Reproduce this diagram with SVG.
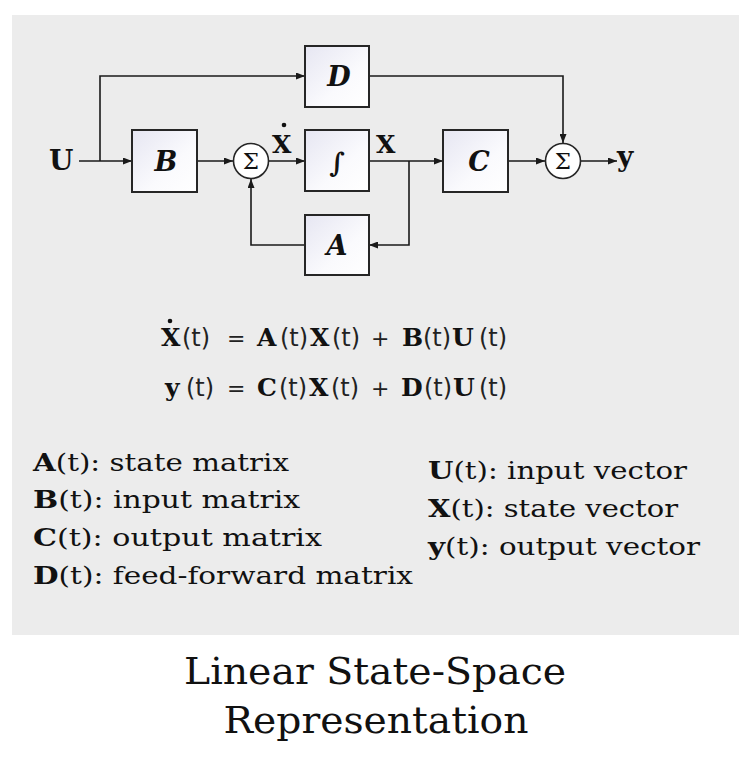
<svg xmlns="http://www.w3.org/2000/svg" width="756" height="762" viewBox="0 0 756 762">
<defs>
<linearGradient id="boxg" x1="0" y1="0" x2="1" y2="1">
<stop offset="0" stop-color="#e6e6f2"/>
<stop offset="0.6" stop-color="#fafafd"/>
<stop offset="1" stop-color="#ffffff"/>
</linearGradient>
<marker id="arr" markerUnits="userSpaceOnUse" markerWidth="9" markerHeight="7" refX="9" refY="3.5" viewBox="0 0 9 7" orient="auto">
<path d="M0,0 L9,3.5 L0,7 z" fill="#1a1a1a"/>
</marker>
</defs>
<style>
.box{fill:url(#boxg);stroke:#262626;stroke-width:2}
.sum{fill:#ffffff;stroke:#262626;stroke-width:1.6}
.blk{font-family:"DejaVu Serif",serif;font-style:italic;font-weight:bold;font-size:27px;fill:#111;text-anchor:middle}
.sig{font-family:"DejaVu Serif",serif;font-size:23px;fill:#111;text-anchor:middle}
.lbl{font-family:"DejaVu Serif",serif;font-weight:bold;fill:#111}
.conn path{fill:none;stroke:#1a1a1a;stroke-width:1.6;marker-end:url(#arr)}
.eq{font-size:24px;fill:#111}
.b{font-family:"DejaVu Serif",serif;font-weight:bold;font-size:25px}
.s{font-family:"DejaVu Sans",sans-serif;font-weight:normal;fill:#222}
.op{font-family:"DejaVu Sans",sans-serif;font-size:22px;fill:#222}
.leg{font-family:"DejaVu Serif",serif;font-size:25px;fill:#111}
.title{font-family:"DejaVu Serif",serif;font-size:37px;fill:#111;text-anchor:middle}
</style>
<rect x="12" y="15" width="727" height="620" fill="#ececec"/>

<g class="conn">
<path d="M79,161 L132,161"/>
<path d="M100,161 L100,76 L305,76"/>
<path d="M197,161 L233,161"/>
<path d="M269,161 L305,161"/>
<path d="M369,161 L443,161"/>
<path d="M409,161 L409,245 L369,245"/>
<path d="M305,245 L251,245 L251,179"/>
<path d="M369,76 L563,76 L563,143"/>
<path d="M508,161 L545,161"/>
<path d="M581,161 L617,161"/>
</g>

<g id="nodeD"><rect class="box" x="305" y="46" width="64" height="61"/><text class="blk" x="339" y="86">D</text></g>
<g id="nodeB"><rect class="box" x="132" y="130" width="65" height="62"/><text class="blk" x="166" y="171">B</text></g>
<g id="nodeInt"><rect class="box" x="305" y="130" width="64" height="61"/><text class="blk" x="337" y="172" font-size="32" font-weight="normal">∫</text></g>
<g id="nodeA"><rect class="box" x="305" y="215" width="64" height="60"/><text class="blk" x="337" y="255">A</text></g>
<g id="nodeC"><rect class="box" x="443" y="130" width="65" height="62"/><text class="blk" x="479" y="171">C</text></g>
<g id="sum1"><circle class="sum" cx="251" cy="161" r="17.5"/><text class="sig" x="251" y="169">Σ</text></g>
<g id="sum2"><circle class="sum" cx="563" cy="161" r="17.5"/><text class="sig" x="563" y="169">Σ</text></g>

<g id="labels">
<text class="lbl" x="49" y="170" font-size="28">U</text>
<text class="lbl" x="617" y="166" font-size="28">y</text>
<text class="lbl" x="272" y="153" font-size="25">X</text>
<circle cx="284" cy="125" r="2.3" fill="#111"/>
<text class="lbl" x="376" y="153" font-size="25">X</text>
</g>

<g id="equations">
<circle cx="170" cy="321" r="2.3" fill="#111"/>
<text class="eq" y="346"><tspan class="b" x="161">X</tspan><tspan class="s" x="182">(t)</tspan><tspan class="op" x="227">=</tspan><tspan class="b" x="257">A</tspan><tspan class="s" x="280">(t)</tspan><tspan class="b" x="310">X</tspan><tspan class="s" x="332">(t)</tspan><tspan class="op" x="371">+</tspan><tspan class="b" x="402">B</tspan><tspan class="s" x="423">(t)</tspan><tspan class="b" x="452">U</tspan><tspan class="s" x="479">(t)</tspan></text>
<text class="eq" y="396"><tspan class="b" x="165">y</tspan><tspan class="s" x="186">(t)</tspan><tspan class="op" x="227">=</tspan><tspan class="b" x="257">C</tspan><tspan class="s" x="279">(t)</tspan><tspan class="b" x="309">X</tspan><tspan class="s" x="331">(t)</tspan><tspan class="op" x="371">+</tspan><tspan class="b" x="401">D</tspan><tspan class="s" x="424">(t)</tspan><tspan class="b" x="453">U</tspan><tspan class="s" x="479">(t)</tspan></text>
</g>

<g id="legend">
<text class="leg" x="33" y="471" textLength="256" lengthAdjust="spacingAndGlyphs"><tspan font-weight="bold">A</tspan>(t): state matrix</text>
<text class="leg" x="33" y="508" textLength="267" lengthAdjust="spacingAndGlyphs"><tspan font-weight="bold">B</tspan>(t): input matrix</text>
<text class="leg" x="33" y="546" textLength="289" lengthAdjust="spacingAndGlyphs"><tspan font-weight="bold">C</tspan>(t): output matrix</text>
<text class="leg" x="33" y="584" textLength="380" lengthAdjust="spacingAndGlyphs"><tspan font-weight="bold">D</tspan>(t): feed-forward matrix</text>
<text class="leg" x="428" y="479" textLength="259" lengthAdjust="spacingAndGlyphs"><tspan font-weight="bold">U</tspan>(t): input vector</text>
<text class="leg" x="428" y="517" textLength="250" lengthAdjust="spacingAndGlyphs"><tspan font-weight="bold">X</tspan>(t): state vector</text>
<text class="leg" x="428" y="555" textLength="272" lengthAdjust="spacingAndGlyphs"><tspan font-weight="bold">y</tspan>(t): output vector</text>
</g>

<g id="title">
<text class="title" x="375" y="684" textLength="382" lengthAdjust="spacingAndGlyphs">Linear State-Space</text>
<text class="title" x="376" y="733" textLength="305" lengthAdjust="spacingAndGlyphs">Representation</text>
</g>
</svg>
